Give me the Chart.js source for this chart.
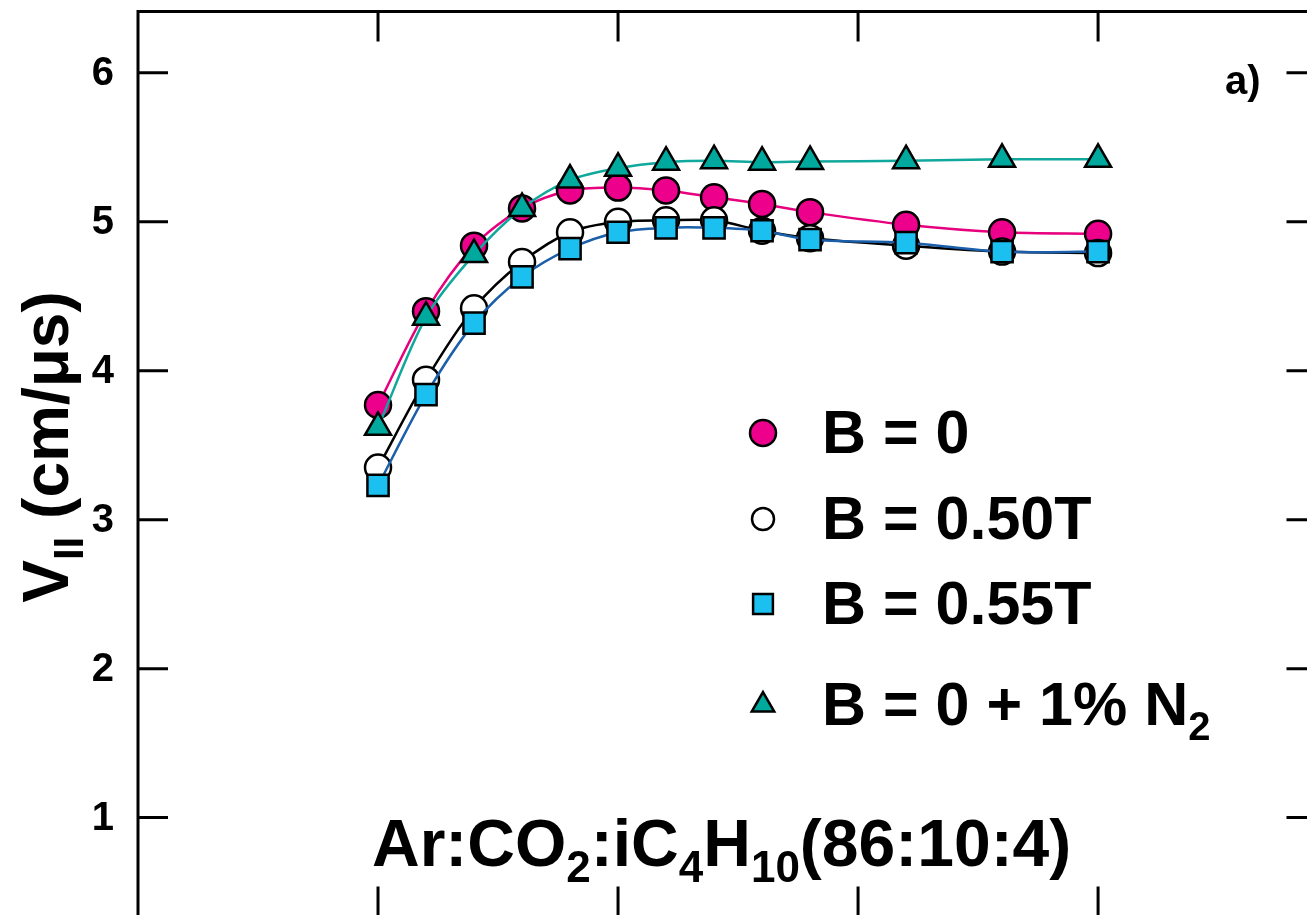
<!DOCTYPE html>
<html>
<head>
<meta charset="utf-8">
<script src="https://cdn.jsdelivr.net/npm/chart.js@4.4.1/dist/chart.umd.min.js"></script>
<style>
html, body { margin: 0; padding: 0; background: #fff; overflow: hidden; }
#wrap { position: absolute; left: 0; top: -6px; width: 1334px; height: 940px; }
</style>
</head>
<body>
<div id="wrap"><canvas id="chart" width="1334" height="940"></canvas></div>
<script>
// drift field (V/cm), the axis labels are cut off in the picture
var fieldValues = [500, 600, 700, 800, 900, 1000, 1100, 1200, 1300, 1400, 1600, 1800, 2000];
// drift velocity (cm/us)
var vNoField  = [3.77, 4.40, 4.84, 5.09, 5.21, 5.23, 5.21, 5.165, 5.12, 5.065, 4.98, 4.93, 4.92];
var v050T     = [3.35, 3.94, 4.42, 4.73, 4.93, 5.00, 5.01, 5.01, 4.94, 4.89, 4.84, 4.80, 4.79];
var v055T     = [3.23, 3.84, 4.32, 4.63, 4.82, 4.93, 4.96, 4.96, 4.94, 4.88, 4.86, 4.80, 4.80];
var vNitrogen = [3.62, 4.36, 4.78, 5.09, 5.28, 5.36, 5.40, 5.41, 5.40, 5.405, 5.41, 5.42, 5.42];

var seriesLabels = ['B = 0', 'B = 0.50T', 'B = 0.55T', 'B = 0 + 1% N_{2}'];
var yTickValues = [1, 2, 3, 4, 5, 6];
var xTickValues = [500, 1000, 1500, 2000];

var FONT = '"Liberation Sans", Arial, Helvetica, sans-serif';
var SHIFT = 6; // canvas sits 6px above the page top

function pts(ys) {
	return ys.map(function(y, i) { return {x: fieldValues[i], y: y}; });
}

// text with _{..} subscripts
function richParts(str) {
	var out = [];
	var re = /_\{([^}]*)\}/g, last = 0, m;
	while ((m = re.exec(str)) !== null) {
		if (m.index > last) out.push([str.slice(last, m.index), false]);
		out.push([m[1], true]);
		last = re.lastIndex;
	}
	if (last < str.length) out.push([str.slice(last), false]);
	return out;
}

function drawRich(ctx, str, x, y, size, align) {
	var parts = richParts(str);
	var subSize = Math.round(size * 0.66);
	var total = 0;
	parts.forEach(function(p) {
		ctx.font = 'bold ' + (p[1] ? subSize : size) + 'px ' + FONT;
		p.push(ctx.measureText(p[0]).width);
		total += p[2];
	});
	var cx = align === 'center' ? x - total / 2 : x;
	ctx.textAlign = 'left';
	ctx.textBaseline = 'alphabetic';
	parts.forEach(function(p) {
		ctx.font = 'bold ' + (p[1] ? subSize : size) + 'px ' + FONT;
		ctx.fillText(p[0], cx, p[1] ? y + size * 0.24 : y);
		cx += p[2];
	});
}

var frame = {
	id: 'frame',
	beforeDatasetsDraw: function(chart) {
		var ctx = chart.ctx, a = chart.chartArea;
		var xs = chart.scales.x, ys = chart.scales.y;
		var tick = 30;
		ctx.save();
		ctx.strokeStyle = '#000';
		ctx.lineWidth = 3;
		ctx.strokeRect(a.left, a.top, a.right - a.left, a.bottom - a.top);
		ctx.beginPath();
		xTickValues.forEach(function(v) {
			var px = xs.getPixelForValue(v);
			ctx.moveTo(px, a.top); ctx.lineTo(px, a.top + tick);
			ctx.moveTo(px, a.bottom); ctx.lineTo(px, a.bottom - tick);
		});
		yTickValues.forEach(function(v) {
			var py = ys.getPixelForValue(v);
			ctx.moveTo(a.left, py); ctx.lineTo(a.left + tick, py);
			ctx.moveTo(a.right, py); ctx.lineTo(a.right - tick, py);
		});
		ctx.stroke();

		// y tick labels
		ctx.fillStyle = '#000';
		ctx.font = 'bold 40px ' + FONT;
		ctx.textAlign = 'right';
		ctx.textBaseline = 'middle';
		yTickValues.forEach(function(v) {
			ctx.fillText(String(v), a.left - 24, ys.getPixelForValue(v) + 1);
		});
		ctx.restore();
	}
};

var notes = {
	id: 'notes',
	afterDraw: function(chart) {
		var ctx = chart.ctx;
		ctx.save();
		ctx.translate(0, SHIFT);
		ctx.fillStyle = '#000';

		// y axis title
		ctx.save();
		ctx.translate(68, 447);
		ctx.rotate(-Math.PI / 2);
		drawRich(ctx, 'V_{II} (cm/\u03bcs)', 0, 0, 64, 'center');
		ctx.restore();

		// legend
		var rowsY = [433, 519, 604, 705];
		var markerSize = [13, 11, 14, 13];
		chart.data.datasets.forEach(function(ds, i) {
			ctx.save();
			ctx.fillStyle = ds.pointBackgroundColor;
			ctx.strokeStyle = '#000';
			ctx.lineWidth = 2.5;
			Chart.helpers.drawPoint(ctx, {pointStyle: ds.pointStyle, radius: markerSize[i], borderWidth: 2.5, rotation: 0}, 763, rowsY[i]);
			ctx.restore();
			ctx.fillStyle = '#000';
			drawRich(ctx, seriesLabels[i], 822, rowsY[i] + 20, 61, 'left');
		});

		// panel tag and gas mixture
		ctx.font = 'bold 40px ' + FONT;
		ctx.textAlign = 'left';
		ctx.fillText('a)', 1225, 94);
		drawRich(ctx, 'Ar:CO_{2}:iC_{4}H_{10}(86:10:4)', 372, 866, 66, 'left');
		ctx.restore();
	}
};

function series(label, data, line, fill, style, radius, order) {
	return {
		label: label,
		data: pts(data),
		borderColor: line,
		borderWidth: 2.5,
		backgroundColor: fill,
		pointBackgroundColor: fill,
		pointBorderColor: '#000',
		pointBorderWidth: 2.5,
		pointStyle: style,
		pointRadius: radius,
		tension: 0.3,
		order: order
	};
}

new Chart(document.getElementById('chart'), {
	type: 'line',
	data: {
		datasets: [
			series(seriesLabels[0], vNoField, '#e6007e', '#ec008c', 'circle', 13, 3),
			series(seriesLabels[1], v050T, '#000000', '#ffffff', 'circle', 13, 2),
			series(seriesLabels[2], v055T, '#1b5fab', '#1cc0f0', 'rect', 15, 1),
			series(seriesLabels[3], vNitrogen, '#10a89c', '#00a99d', 'triangle', 15, 0)
		]
	},
	options: {
		responsive: false,
		animation: false,
		layout: { padding: 0 },
		plugins: { legend: { display: false }, tooltip: { enabled: false } },
		scales: {
			x: {
				type: 'linear',
				min: 0,
				max: 2455,
				display: false
			},
			y: {
				type: 'linear',
				min: 0.336,
				max: 6.412,
				afterFit: function(scale) {
					scale.width = 138;
					scale.paddingTop = 0;
					scale.paddingBottom = 0;
				},
				afterBuildTicks: function(scale) {
					scale.ticks = yTickValues.map(function(v) { return {value: v}; });
				},
				grid: { display: false, drawTicks: false },
				border: { display: false },
				ticks: { display: false }
			}
		}
	},
	plugins: [frame, notes]
});
</script>
</body>
</html>
